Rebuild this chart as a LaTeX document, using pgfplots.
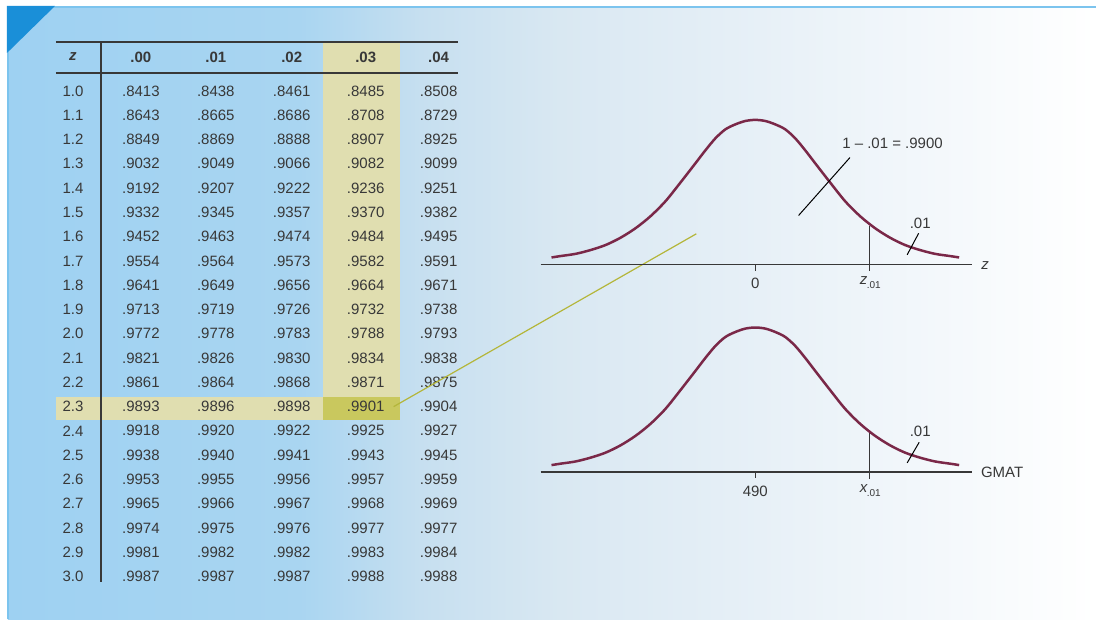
\documentclass[border=0pt]{standalone}
\usepackage{pgfplots}
\pgfplotsset{compat=1.18}
\usepackage{pgfplotstable}
\usepackage{fontspec}
\setmainfont{Liberation Sans}
\definecolor{txt}{HTML}{383838}
\definecolor{hilite}{HTML}{E0DEB0}
\definecolor{hicell}{HTML}{C9C85E}
\definecolor{olive}{HTML}{B4B63A}
\definecolor{maroon}{HTML}{7A2848}
\definecolor{tri}{HTML}{1A8FD8}
\definecolor{bord}{HTML}{7CC4EE}
\definecolor{bgA}{HTML}{9ED1F2}
\definecolor{bgB}{HTML}{A9D5F1}
\definecolor{bgC}{HTML}{C6DFF0}
\definecolor{bgD}{HTML}{D9E8F2}
\definecolor{bgE}{HTML}{E7F0F7}
\newcommand\tf{\fontsize{15}{18}\selectfont}
\pgfplotstableread{
dx h
-204 6.8
-195 8.2
-180 10.4
-165 14.2
-150 19.2
-135 26.5
-120 36
-105 48
-90 63
-75 81.7
-60 101
-50 114
-40 126
-30 135
-20 140
-10 143.4
0 144.5
10 143.4
20 140
30 135
40 126
50 114
60 101
75 81.7
90 63
105 48
120 36
135 26.5
150 19.2
165 14.2
180 10.4
195 8.2
204 6.8
}\curve
% row macro: y, z, .00, .01, .02, .03, .04
\newcommand\trow[7]{%
\node at (axis cs:73,#1) {#2};
\node at (axis cs:141,#1) {#3};
\node at (axis cs:216,#1) {#4};
\node at (axis cs:292,#1) {#5};
\node at (axis cs:366,#1) {#6};
\node at (axis cs:439,#1) {#7};}
\begin{document}
\begin{tikzpicture}[every node/.style={font=\tf, text=txt}]
\begin{axis}[at={(0,0)},anchor=south west,width=1097pt,height=620pt,scale only axis,
  xmin=0,xmax=1097,ymin=0,ymax=620,y dir=reverse,hide axis,clip=false]
% background
\fill[white] (axis cs:0,0) rectangle (axis cs:1097,620);
\fill[left color=bgA,right color=bgB,draw=none] (axis cs:8,7) rectangle (axis cs:301,620);
\fill[left color=bgB,right color=bgC,draw=none] (axis cs:300,7) rectangle (axis cs:421,620);
\fill[left color=bgC,right color=bgD,draw=none] (axis cs:420,7) rectangle (axis cs:561,620);
\fill[left color=bgD,right color=bgE,draw=none] (axis cs:560,7) rectangle (axis cs:761,620);
\fill[left color=bgE,right color=white,draw=none] (axis cs:760,7) rectangle (axis cs:1097,620);
\draw[bord,line width=2pt] (axis cs:8,7) -- (axis cs:1097,7);
\draw[bord,line width=2pt] (axis cs:8,7) -- (axis cs:8,620);
\fill[tri] (axis cs:7,6) -- (axis cs:55,6) -- (axis cs:7,53) -- cycle;
% highlights
\fill[hilite] (axis cs:323,42) rectangle (axis cs:400,397);
\fill[hilite] (axis cs:56,397) rectangle (axis cs:323,420);
\fill[hicell] (axis cs:323,397) rectangle (axis cs:400,420);
% rules
\draw[txt,line width=1.5pt] (axis cs:56,42) -- (axis cs:458,42);
\draw[txt,line width=1.5pt] (axis cs:56,73) -- (axis cs:458,73);
\draw[txt,line width=1.5pt] (axis cs:101,42) -- (axis cs:101,582.5);
% header
\node at (axis cs:73,57) {\bfseries\itshape z};
\node at (axis cs:141,57) {\bfseries .00};
\node at (axis cs:216,57) {\bfseries .01};
\node at (axis cs:292,57) {\bfseries .02};
\node at (axis cs:366,57) {\bfseries .03};
\node at (axis cs:439,57) {\bfseries .04};
% rows
\trow{91.0}{1.0}{.8413}{.8438}{.8461}{.8485}{.8508}
\trow{115.3}{1.1}{.8643}{.8665}{.8686}{.8708}{.8729}
\trow{139.6}{1.2}{.8849}{.8869}{.8888}{.8907}{.8925}
\trow{163.9}{1.3}{.9032}{.9049}{.9066}{.9082}{.9099}
\trow{188.2}{1.4}{.9192}{.9207}{.9222}{.9236}{.9251}
\trow{212.5}{1.5}{.9332}{.9345}{.9357}{.9370}{.9382}
\trow{236.8}{1.6}{.9452}{.9463}{.9474}{.9484}{.9495}
\trow{261.1}{1.7}{.9554}{.9564}{.9573}{.9582}{.9591}
\trow{285.4}{1.8}{.9641}{.9649}{.9656}{.9664}{.9671}
\trow{309.7}{1.9}{.9713}{.9719}{.9726}{.9732}{.9738}
\trow{334.0}{2.0}{.9772}{.9778}{.9783}{.9788}{.9793}
\trow{358.3}{2.1}{.9821}{.9826}{.9830}{.9834}{.9838}
\trow{382.6}{2.2}{.9861}{.9864}{.9868}{.9871}{.9875}
\trow{406.9}{2.3}{.9893}{.9896}{.9898}{.9901}{.9904}
\trow{431.2}{2.4}{.9918}{.9920}{.9922}{.9925}{.9927}
\trow{455.5}{2.5}{.9938}{.9940}{.9941}{.9943}{.9945}
\trow{479.8}{2.6}{.9953}{.9955}{.9956}{.9957}{.9959}
\trow{504.1}{2.7}{.9965}{.9966}{.9967}{.9968}{.9969}
\trow{528.4}{2.8}{.9974}{.9975}{.9976}{.9977}{.9977}
\trow{552.7}{2.9}{.9981}{.9982}{.9982}{.9983}{.9984}
\trow{577.0}{3.0}{.9987}{.9987}{.9987}{.9988}{.9988}
% olive connector
\draw[olive,line width=1.2pt] (axis cs:394,407) -- (axis cs:697,234);
% upper curve
\draw[txt,line width=1.3pt] (axis cs:541,264.5) -- (axis cs:973,264.5);
\draw[txt,line width=1.3pt] (axis cs:756,264.5) -- (axis cs:756,271);
\draw[txt,line width=1pt] (axis cs:870.7,226) -- (axis cs:870.7,271.5);
\addplot[maroon,line width=2.5pt,smooth] table[x expr=756+\thisrow{dx},y expr=264.5-\thisrow{h}] {\curve};
\draw[black,line width=1pt] (axis cs:799.3,215.7) -- (axis cs:850.7,157.7);
\draw[black,line width=1pt] (axis cs:908,255) -- (axis cs:919.5,233.5);
\node at (axis cs:893.3,143.3) {1 – .01 = .9900};
\node at (axis cs:921,223.5) {.01};
\node at (axis cs:986,265.5) {\itshape z};
\node at (axis cs:756,283.5) {0};
\node at (axis cs:871,283) {\itshape z\kern-0.5pt\raisebox{-3.5pt}{\upshape\fontsize{10}{12}\selectfont .01}};
% lower curve
\draw[txt,line width=1.3pt] (axis cs:541,472.3) -- (axis cs:973,472.3);
\draw[txt,line width=1.3pt] (axis cs:756,472.3) -- (axis cs:756,478.5);
\draw[txt,line width=1pt] (axis cs:870.7,433) -- (axis cs:870.7,479.5);
\addplot[maroon,line width=2.5pt,smooth] table[x expr=756+\thisrow{dx},y expr=472.3-\thisrow{h}] {\curve};
\draw[black,line width=1pt] (axis cs:908,463.3) -- (axis cs:920,442.7);
\node at (axis cs:921,431.5) {.01};
\node at (axis cs:1003,472.3) {GMAT};
\node at (axis cs:756,491.7) {490};
\node at (axis cs:871,491) {\itshape x\kern-0.5pt\raisebox{-3.5pt}{\upshape\fontsize{10}{12}\selectfont .01}};
\end{axis}
\end{tikzpicture}
\end{document}
